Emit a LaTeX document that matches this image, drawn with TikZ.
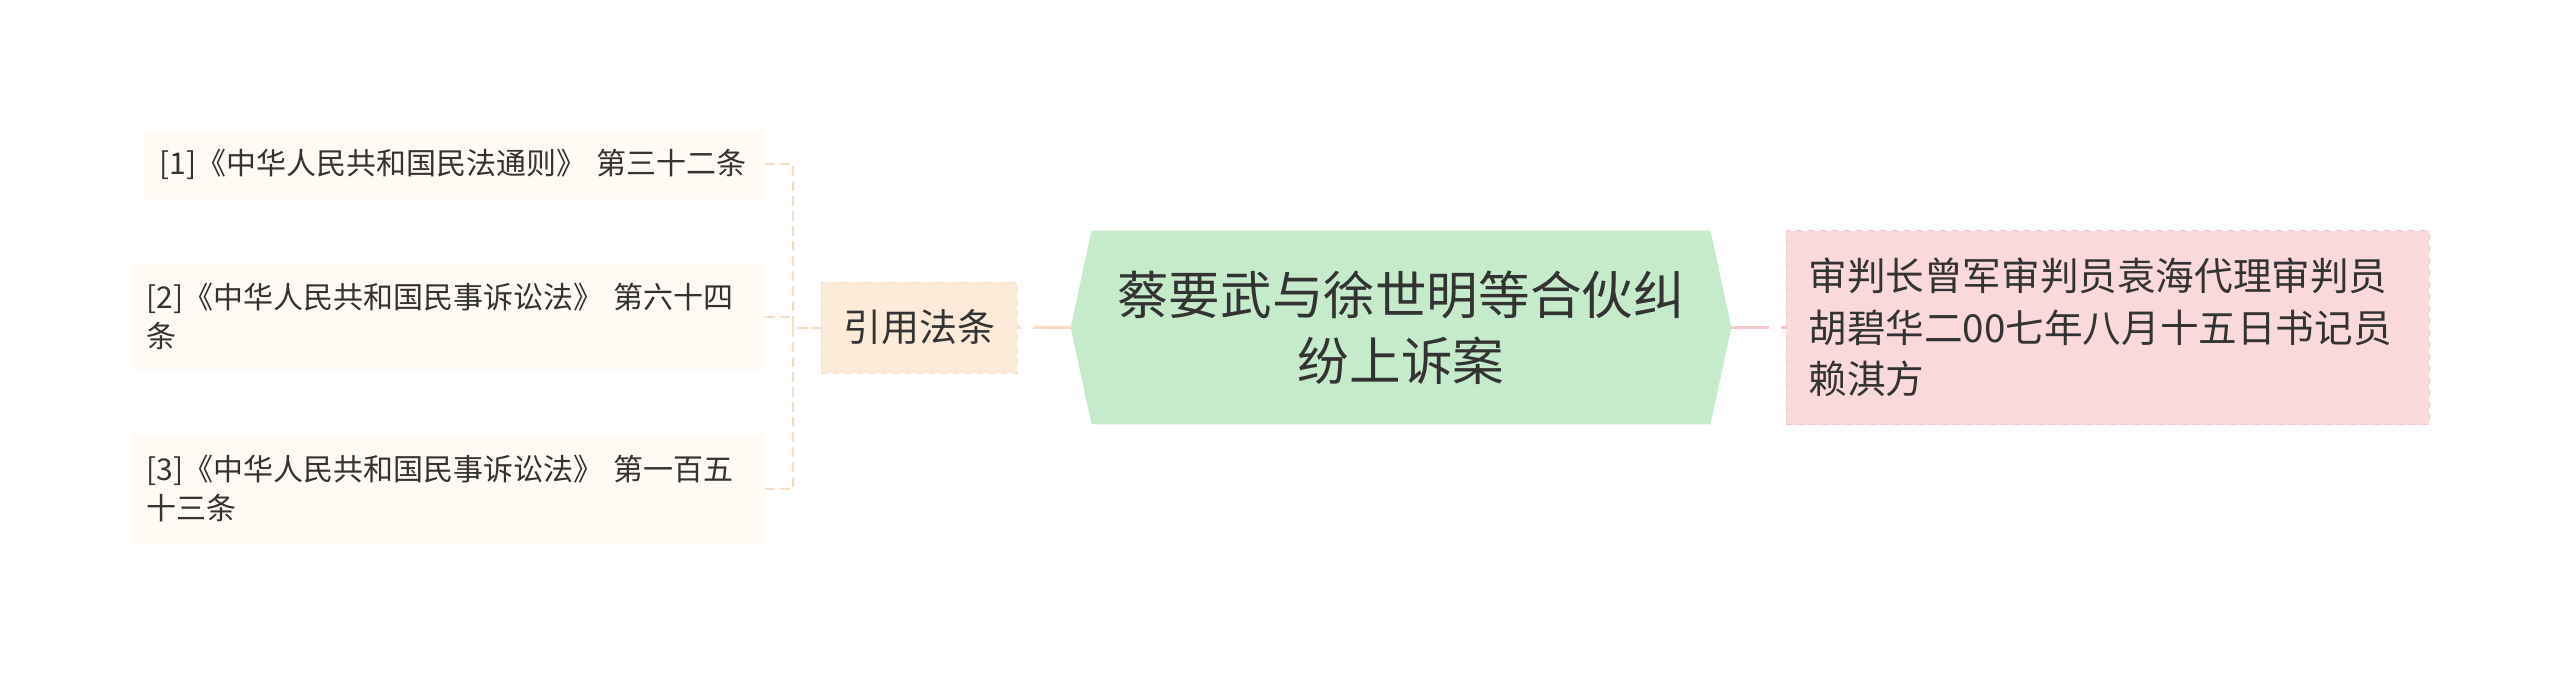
\documentclass[tikz,border=0pt]{standalone}
\usepackage{fontspec}
\setmainfont{Noto Sans CJK SC}
\usepackage{xcolor}
\usetikzlibrary{
		calc,
		positioning,
		backgrounds
	}
\definecolor{textgray}{HTML}{333333}
\definecolor{leafcream}{HTML}{FFFAF3}
\definecolor{citepeach}{HTML}{FDEBDA}
\definecolor{citeedge}{HTML}{F8DCC2}
\definecolor{linepeach}{HTML}{F4DEC8}
\definecolor{mainpeach}{HTML}{F9DDC6}
\definecolor{topicgreen}{HTML}{C5EBCB}
\definecolor{notepink}{HTML}{FAD9DA}
\definecolor{noteedge}{HTML}{F3C2C6}
\definecolor{linepink}{HTML}{F6C9CC}
\tikzset{
		leaf/.style={anchor=east, fill=leafcream, text=textgray, align=left, inner xsep=8pt, inner ysep=0pt, font=\fontsize{15}{19.5}\selectfont},
		citebox/.style={fill=citepeach, draw=citeedge, dashed, text=textgray, minimum width=98pt, minimum height=45.5pt, inner sep=0pt, font=\fontsize{19}{24}\selectfont},
		topic/.style={text=textgray, align=center, minimum width=330pt, minimum height=96.5pt, inner sep=0pt, font=\fontsize{25.8}{33}\selectfont},
		notebox/.style={anchor=west, fill=notepink, draw=noteedge, dashed, text=textgray, align=left, inner xsep=11pt, inner ysep=0pt, minimum height=97pt, text width=299.5pt, font=\fontsize{19.3}{25.7}\selectfont},
		leafline/.style={draw=linepeach, line width=1pt, dash pattern=on 5pt off 2.5pt},
		mainline/.style={line width=1.6pt, dash pattern=on 19pt off 6pt}
	}

\begin{document}
\begin{tikzpicture}[x=0.5pt, y=-0.5pt]
		\useasboundingbox (0,0) rectangle (2560,675);
		% Leaves
		\node[leaf, text width=294.5pt, minimum height=34.5pt] (leaf1) at (765,164) {[1]《中华人民共和国民法通则》 第三十二条};
		\node[leaf, text width=301pt, minimum height=53.5pt] (leaf2) at (765,316.5) {[2]《中华人民共和国民事诉讼法》 第六十四\\条};
		\node[leaf, text width=301pt, minimum height=55pt] (leaf3) at (765,489) {[3]《中华人民共和国民事诉讼法》 第一百五\\十三条};
		% Middle
		\node[citebox] (cite) at (919,327.5) {引用法条};
		\node[topic] (topic) at (1401,327.5) {蔡要武与徐世明等合伙纠\\纷上诉案};
		\node[notebox] (note) at (1786,327.5) {审判长曾军审判员袁海代理审判员\\胡碧华二00七年八月十五日书记员\\赖淇方};
		% Topic shape
		\begin{scope}[on background layer]
			\fill[topicgreen] (topic.west) -- ([xshift=10.5pt]topic.north west) -- ([xshift=-10.5pt]topic.north east) -- (topic.east) -- ([xshift=-10.5pt]topic.south east) -- ([xshift=10.5pt]topic.south west) -- cycle;
		\end{scope}
		% Connectors
		\draw[leafline] (leaf1.east) -- ++(14pt,0) |- (cite.west);
		\draw[leafline] (leaf2.east) -- ++(14pt,0) |- (cite.west);
		\draw[leafline] (leaf3.east) -- ++(14pt,0) |- (cite.west);
		\draw[mainline, mainpeach] (topic.west) -- (cite.east);
		\draw[mainline, linepink] (topic.east) -- (note.west);
	\end{tikzpicture}
\end{document}
